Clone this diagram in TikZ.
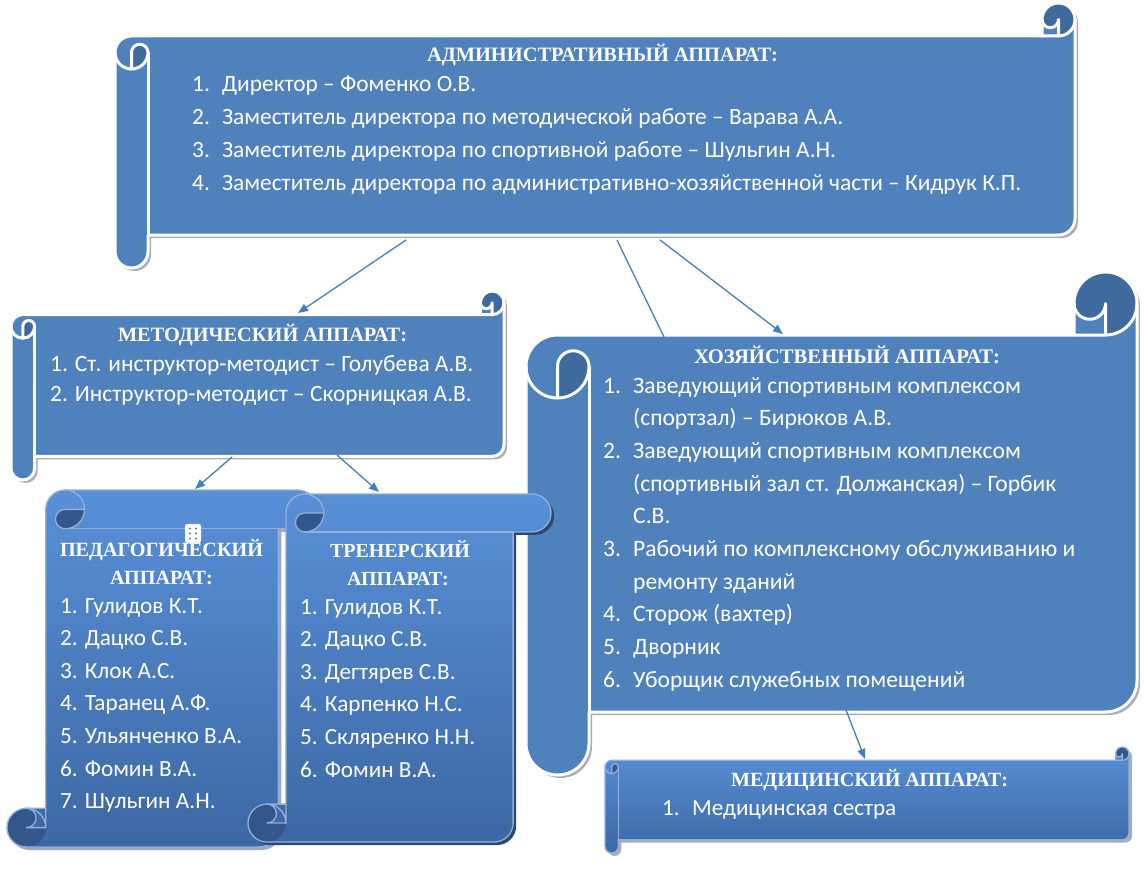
\documentclass[tikz,border=0pt]{standalone}
\usepackage{fontspec}
\setmainfont{Carlito}
\newfontfamily\hdfont{Liberation Serif}
\usetikzlibrary{arrows.meta}
\definecolor{sblue}{HTML}{4F81BD}
\definecolor{sdark}{HTML}{3F6A9E}
\definecolor{sshadow}{HTML}{A7AEB9}
\definecolor{glight}{HTML}{5890D8}
\definecolor{gdark}{HTML}{3C68A4}
\definecolor{vline}{HTML}{93B0DA}
\definecolor{vdark}{HTML}{33578A}
\definecolor{vshadow}{HTML}{2B4872}
\definecolor{pshadow}{HTML}{9CA9BD}
\definecolor{arrowblue}{HTML}{4A7EBB}
\newlength\fitw
\newcommand\fitsize[4]{\settowidth\fitw{\normalfont#3\fontsize{20}{20}\selectfont #4}\pgfmathsetmacro#1{20*(#2/\fitw)}}
\newcommand\fsz[1]{\fontsize{#1}{#1}\selectfont}
% horizontal scroll: L T W H c shadow fill dark line
\newcommand\HScroll[9]{%
\begin{scope}[shift={(#1,#2)}]
\pgfmathsetmacro\sW{#3}\pgfmathsetmacro\sH{#4}\pgfmathsetmacro\sc{#5}%
\pgfmathsetmacro\sh{\sc/2}\pgfmathsetmacro\sq{\sc/4}%
\pgfmathsetmacro\sxa{\sW-\sc}\pgfmathsetmacro\sxb{\sW-\sh}%
\pgfmathsetmacro\sya{\sc+\sh}\pgfmathsetmacro\syb{2*\sc}%
\pgfmathsetmacro\syd{\sH-\sc}\pgfmathsetmacro\sye{\sH-\sh}\pgfmathsetmacro\syc{\syd-\sh}%
\def\soutline{(0,\sya) arc (-180:-270:\sh pt) -- (\sxa,\sc) -- (\sxa,\sh) arc (-180:-360:\sh pt) -- (\sW,\syc) arc (0:-90:\sh pt) -- (\sc,\syd) -- (\sc,\sye) arc (0:-180:\sh pt) -- cycle}%
\fill[#6,shift={(3,3)}] \soutline;
\path[#7] \soutline;
\fill[#8] (\sxb,\sc) arc (-90:180:\sh pt) arc (180:360:\sq pt) -- cycle;
\fill[#8] (\sh,\syb) arc (-90:0:\sh pt) arc (0:180:\sq pt) -- cycle;
\draw[#9] \soutline;
\draw[#9] (\sxa,\sc) -- (\sxb,\sc) arc (-90:0:\sh pt);
\draw[#9] (\sxb,\sc) -- (\sxb,\sh) arc (0:-180:\sq pt);
\draw[#9] (\sh,\syb) -- (\sh,\sya) arc (-180:-360:\sq pt) arc (0:-180:\sh pt);
\draw[#9] (\sc,\sya) -- (\sc,\syd);
\end{scope}}
% vertical scroll: L T W H c shadow fill dark line
\newcommand\VScroll[9]{%
\begin{scope}[shift={(#1,#2)}]
\pgfmathsetmacro\sW{#3}\pgfmathsetmacro\sH{#4}\pgfmathsetmacro\sc{#5}%
\pgfmathsetmacro\sh{\sc/2}\pgfmathsetmacro\sq{\sc/4}%
\pgfmathsetmacro\sya{\sc+\sh}\pgfmathsetmacro\syb{2*\sc}%
\pgfmathsetmacro\sxa{\sH-\sc}\pgfmathsetmacro\sxb{\sH-\sh}%
\pgfmathsetmacro\syd{\sW-\sc}\pgfmathsetmacro\sye{\sW-\sh}\pgfmathsetmacro\syc{\syd-\sh}%
\def\soutline{(\sya,0) arc (90:180:\sh pt) -- (\sc,\sxa) -- (\sh,\sxa) arc (90:270:\sh pt) -- (\syc,\sH) arc (-90:0:\sh pt) -- (\syd,\sc) -- (\sye,\sc) arc (-90:90:\sh pt) -- cycle}%
\fill[#6,shift={(3,3)}] \soutline;
\path[#7] \soutline;
\fill[#8] (\sc,\sxb) arc (0:-270:\sh pt) arc (90:-90:\sq pt) -- cycle;
\fill[#8] (\syb,\sh) arc (0:-90:\sh pt) arc (-90:-270:\sq pt) -- cycle;
\draw[#9] \soutline;
\draw[#9] (\sc,\sxa) -- (\sc,\sxb) arc (0:90:\sh pt);
\draw[#9] (\sc,\sxb) -- (\sh,\sxb) arc (-90:90:\sq pt);
\draw[#9] (\syb,\sh) -- (\sya,\sh) arc (90:270:\sq pt) arc (-90:90:\sh pt);
\draw[#9] (\sya,\sc) -- (\syd,\sc);
\end{scope}}
\tikzset{
 flatfill/.style={fill=sblue},
 flatdark/.style={fill=sdark},
 flatline/.style={draw=white,line width=3pt,line join=round,line cap=round},
 gradfill/.style={top color=glight,bottom color=gdark},
 graddark/.style={fill=vdark},
 gradline/.style={draw=vline,line width=1.3pt,line join=round,line cap=round},
 txt/.style={text=white,inner sep=0pt,anchor=base west},
 hd/.style={text=white,inner sep=0pt,anchor=base},
 arr/.style={draw=arrowblue,line width=1.3pt,-{Triangle[length=10pt,width=8pt]}},
 plainline/.style={draw=arrowblue,line width=1.3pt},
}
\begin{document}
\fitsize\fA{799}{}{Заместитель директора по административно-хозяйственной части – Кидрук К.П.}%
\fitsize\hA{351}{\hdfont\bfseries}{АДМИНИСТРАТИВНЫЙ АППАРАТ:}%
\fitsize\fM{423}{}{1. Ст. инструктор-методист – Голубева А.В.}%
\fitsize\hM{289}{\hdfont\bfseries}{МЕТОДИЧЕСКИЙ АППАРАТ:}%
\fitsize\fK{332}{}{Уборщик служебных помещений}%
\fitsize\hK{306}{\hdfont\bfseries}{ХОЗЯЙСТВЕННЫЙ АППАРАТ:}%
\fitsize\fD{204}{}{Медицинская сестра}%
\fitsize\hD{277}{\hdfont\bfseries}{МЕДИЦИНСКИЙ АППАРАТ:}%
\fitsize\fP{182}{}{5. Ульянченко В.А.}%
\fitsize\hP{203}{\hdfont\bfseries}{ПЕДАГОГИЧЕСКИЙ}%
\fitsize\fT{175}{}{5. Скляренко Н.Н.}%
\fitsize\hT{140}{\hdfont\bfseries}{ТРЕНЕРСКИЙ}%
\begin{tikzpicture}[x=1pt,y=-1pt]
\fill[white] (0,0) rectangle (1145,869);
\useasboundingbox (0,0) rectangle (1145,869);

% ---------- administrative
\HScroll{115}{3}{960}{265}{33}{sshadow}{flatfill}{flatdark}{flatline}
\node[hd,font=\hdfont\bfseries\fsz{\hA}] (adminH) at (602.5,62) {АДМИНИСТРАТИВНЫЙ АППАРАТ:};
\node[txt,font=\fsz{\fA}] (admin1) at (192,92) {\makebox[30pt][l]{1.}Директор – Фоменко О.В.};
\node[txt,font=\fsz{\fA}] (admin2) at (192,125) {\makebox[30pt][l]{2.}Заместитель директора по методической работе – Варава А.А.};
\node[txt,font=\fsz{\fA}] (admin3) at (192,158) {\makebox[30pt][l]{3.}Заместитель директора по спортивной работе – Шульгин А.Н.};
\node[txt,font=\fsz{\fA}] (admin4) at (192,190) {\makebox[30pt][l]{4.}Заместитель директора по административно-хозяйственной части – Кидрук К.П.};

% ---------- economic
\HScroll{526}{272}{611}{503}{63}{sshadow}{flatfill}{flatdark}{flatline}
\node[hd,font=\hdfont\bfseries\fsz{\hK}] (khozH) at (847,363.5) {ХОЗЯЙСТВЕННЫЙ АППАРАТ:};
\node[txt,font=\fsz{\fK}] (khoz1) at (603,393) {\makebox[30pt][l]{1.}Заведующий спортивным комплексом};
\node[txt,font=\fsz{\fK}] (khoz1b) at (633,425.7) {(спортзал) – Бирюков А.В.};
\node[txt,font=\fsz{\fK}] (khoz2) at (603,458.4) {\makebox[30pt][l]{2.}Заведующий спортивным комплексом};
\node[txt,font=\fsz{\fK}] (khoz2b) at (633,491.1) {(спортивный зал ст. Должанская) – Горбик};
\node[txt,font=\fsz{\fK}] (khoz2c) at (633,523.8) {С.В.};
\node[txt,font=\fsz{\fK}] (khoz3) at (603,556.5) {\makebox[30pt][l]{3.}Рабочий по комплексному обслуживанию и};
\node[txt,font=\fsz{\fK}] (khoz3b) at (633,589.2) {ремонту зданий};
\node[txt,font=\fsz{\fK}] (khoz4) at (603,621.9) {\makebox[30pt][l]{4.}Сторож (вахтер)};
\node[txt,font=\fsz{\fK}] (khoz5) at (603,654.6) {\makebox[30pt][l]{5.}Дворник};
\node[txt,font=\fsz{\fK}] (khoz6) at (603,687.3) {\makebox[30pt][l]{6.}Уборщик служебных помещений};

% ---------- medical
\HScroll{605}{747}{524}{106}{13.3}{sshadow}{gradfill}{graddark}{gradline}
\node[hd,font=\hdfont\bfseries\fsz{\hD}] (medH) at (869.5,786) {МЕДИЦИНСКИЙ АППАРАТ:};
\node[txt,font=\fsz{\fD}] (med1) at (662,815) {\makebox[30pt][l]{1.}Медицинская сестра};

% ---------- methodical
\HScroll{11}{291}{493}{189}{23.6}{sshadow}{flatfill}{flatdark}{flatline}
\node[hd,font=\hdfont\bfseries\fsz{\hM}] (metH) at (262.5,341.5) {МЕТОДИЧЕСКИЙ АППАРАТ:};
\node[txt,font=\fsz{\fM}] (met1) at (50,371.5) {1. Ст. инструктор-методист – Голубева А.В.};
\node[txt,font=\fsz{\fM}] (met2) at (50,401.5) {2. Инструктор-методист – Скорницкая А.В.};

% ---------- pedagogical
\VScroll{7}{490}{310}{357}{38.75}{pshadow}{gradfill}{graddark}{gradline}
\node[hd,font=\hdfont\bfseries\fsz{\hP}] (pedH1) at (161.5,556) {ПЕДАГОГИЧЕСКИЙ};
\node[hd,font=\hdfont\bfseries\fsz{\hP}] (pedH2) at (161.5,584) {АППАРАТ:};
\node[txt,font=\fsz{\fP}] (ped1) at (60,613) {1. Гулидов К.Т.};
\node[txt,font=\fsz{\fP}] (ped2) at (60,645.6) {2. Дацко С.В.};
\node[txt,font=\fsz{\fP}] (ped3) at (60,678.2) {3. Клок А.С.};
\node[txt,font=\fsz{\fP}] (ped4) at (60,710.8) {4. Таранец А.Ф.};
\node[txt,font=\fsz{\fP}] (ped5) at (60,743.4) {5. Ульянченко В.А.};
\node[txt,font=\fsz{\fP}] (ped6) at (60,776) {6. Фомин В.А.};
\node[txt,font=\fsz{\fP}] (ped7) at (60,808.6) {7. Шульгин А.Н.};
\node[draw=black!25,fill=white,rounded corners=2pt,minimum width=16pt,minimum height=19pt,inner sep=0pt] (handle) at (193,533.5) {};
\foreach \dx in {-3,3} \foreach \dy in {-5,0,5} \fill[black!55] ([shift={(\dx,\dy)}]handle.center) circle (1.2pt);

% ---------- coaches
\VScroll{248}{494}{303}{348}{37.9}{vshadow}{gradfill}{graddark}{gradline}
\node[hd,font=\hdfont\bfseries\fsz{\hT}] (trH1) at (400,557) {ТРЕНЕРСКИЙ};
\node[hd,font=\hdfont\bfseries\fsz{\hT}] (trH2) at (398,585) {АППАРАТ:};
\node[txt,font=\fsz{\fT}] (tr1) at (300,614) {1. Гулидов К.Т.};
\node[txt,font=\fsz{\fT}] (tr2) at (300,646.6) {2. Дацко С.В.};
\node[txt,font=\fsz{\fT}] (tr3) at (300,679.2) {3. Дегтярев С.В.};
\node[txt,font=\fsz{\fT}] (tr4) at (300,711.8) {4. Карпенко Н.С.};
\node[txt,font=\fsz{\fT}] (tr5) at (300,744.4) {5. Скляренко Н.Н.};
\node[txt,font=\fsz{\fT}] (tr6) at (300,777) {6. Фомин В.А.};

% ---------- connectors
\coordinate (aM) at (406,240); \coordinate (mTop) at (298,313);
\coordinate (aK0) at (617,240); \coordinate (kTop0) at (664,337);
\coordinate (aK1) at (660,240); \coordinate (kTop1) at (783,334);
\coordinate (mP) at (232,457); \coordinate (pTop) at (195,489);
\coordinate (mT) at (337,455); \coordinate (tTop) at (379,492);
\coordinate (kM) at (846,710); \coordinate (dTop) at (865,759);
\draw[arr] (aM) -- (mTop);
\draw[plainline] (aK0) -- (kTop0);
\draw[arr] (aK1) -- (kTop1);
\draw[arr] (mP) -- (pTop);
\draw[arr] (mT) -- (tTop);
\draw[arr] (kM) -- (dTop);
\end{tikzpicture}
\end{document}
